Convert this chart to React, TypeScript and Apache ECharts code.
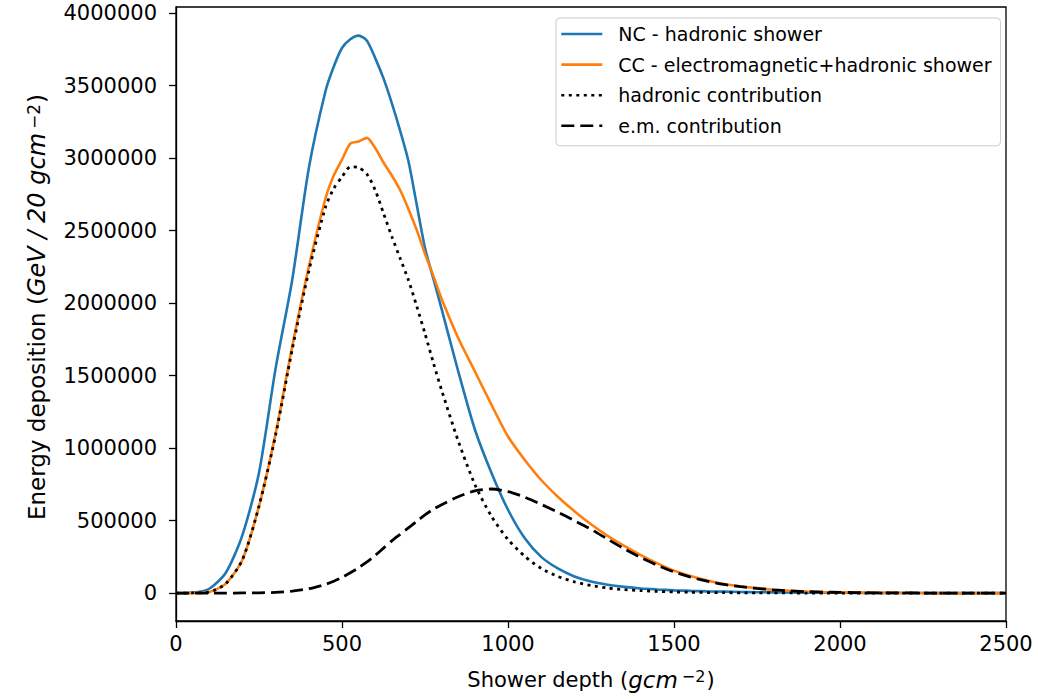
import React, { useEffect, useRef } from "react";
import * as echarts from "echarts";

const depth = [0, 50, 100, 150, 200, 250, 300, 350, 400, 450, 475, 500, 525, 550, 575, 600, 625, 650, 675, 700, 725, 750, 775, 800, 850, 900, 950, 1000, 1050, 1100, 1150, 1200, 1250, 1300, 1350, 1400, 1450, 1500, 1550, 1600, 1650, 1700, 1750, 1800, 1850, 1900, 1950, 2000, 2100, 2200, 2300, 2400, 2500];

const ncHadronic = [0, 3000, 30000, 140000, 400000, 830000, 1550000, 2160000, 2930000, 3460000, 3630000, 3760000, 3820000, 3845000, 3810000, 3690000, 3550000, 3380000, 3190000, 2980000, 2680000, 2380000, 2170000, 1960000, 1530000, 1130000, 830000, 575000, 380000, 250000, 170000, 115000, 80000, 58000, 43000, 32000, 25000, 19000, 15000, 12000, 10000, 8000, 6000, 5000, 4000, 3000, 2000, 2000, 1000, 1000, 0, 0, 0];

const ccEmHadronic = [0, 1000, 8000, 65000, 230000, 600000, 1100000, 1700000, 2250000, 2720000, 2880000, 2990000, 3100000, 3115000, 3140000, 3070000, 2970000, 2880000, 2780000, 2650000, 2505000, 2340000, 2190000, 2030000, 1760000, 1530000, 1300000, 1080000, 920000, 780000, 665000, 565000, 475000, 395000, 325000, 262000, 205000, 155000, 118000, 87000, 63000, 47000, 34000, 23000, 16000, 11000, 7000, 5000, 2000, 1000, 0, 0, 0];

const hadronicPart = [0, 1000, 7000, 65000, 230000, 600000, 1090000, 1680000, 2220000, 2660000, 2790000, 2870000, 2940000, 2935000, 2890000, 2780000, 2620000, 2460000, 2310000, 2160000, 1980000, 1790000, 1590000, 1400000, 1050000, 750000, 530000, 370000, 255000, 170000, 115000, 78000, 52000, 35000, 24000, 17000, 12000, 8000, 6000, 4000, 3000, 2000, 1500, 1000, 1000, 0, 0, 0, 0, 0, 0, 0, 0];

const emPart = [0, 0, 0, 0, 1000, 2000, 5000, 14000, 30000, 60000, 82000, 108000, 140000, 175000, 215000, 260000, 310000, 360000, 405000, 450000, 495000, 540000, 578000, 610000, 665000, 705000, 718000, 700000, 662000, 612000, 558000, 500000, 440000, 372000, 305000, 245000, 192000, 146000, 110000, 82000, 60000, 44000, 32000, 22000, 15000, 10000, 7000, 5000, 2000, 1000, 0, 0, 0];

const xTicks = [0, 500, 1000, 1500, 2000, 2500];
const yTicks = [0, 500000, 1000000, 1500000, 2000000, 2500000, 3000000, 3500000, 4000000];

const seriesNames = [
  "NC - hadronic shower",
  "CC - electromagnetic+hadronic shower",
  "hadronic contribution",
  "e.m. contribution",
];

const FONT = "DejaVu Sans";

function pairs(ys: number[]) {
  return depth.map((x, i) => [x, ys[i]]);
}

export default function App() {
  const ref = useRef<HTMLDivElement>(null);
  useEffect(() => {
    if (!ref.current) return;
    const chart = echarts.init(ref.current, null, { renderer: "svg" });
    const common = {
      type: "line",
      symbol: "none",
      smooth: 0.25,
    };
    chart.setOption({
      animation: false,
      backgroundColor: "#ffffff",
      grid: {
        left: 176,
        top: 7,
        right: 32,
        bottom: 78,
        show: true,
        borderColor: "#000",
        borderWidth: 1.3,
        backgroundColor: "transparent",
      },
      xAxis: {
        type: "value",
        min: 0,
        max: 2500,
        name: "Shower depth ({i|gcm}{sup|−2})",
        nameLocation: "middle",
        nameGap: 47,
        nameTextStyle: {
          fontFamily: FONT,
          fontSize: 21,
          color: "#000",
          rich: {
            i: { fontFamily: FONT, fontSize: 23, fontStyle: "italic", color: "#000" },
            sup: { fontFamily: FONT, fontSize: 16, color: "#000", verticalAlign: "top", padding: [0, 1, 0, 4] },
          },
        },
        axisLine: { show: true, onZero: false, lineStyle: { color: "#000", width: 1.3 } },
        axisTick: { show: true, length: 7, customValues: xTicks, lineStyle: { color: "#000", width: 1.3 } },
        axisLabel: { customValues: xTicks, margin: 12, fontFamily: FONT, fontSize: 21, color: "#000", formatter: (v: number) => String(v) },
        splitLine: { show: false },
      },
      yAxis: {
        type: "value",
        min: -192500,
        max: 4042500,
        name: "Energy deposition ({i|GeV / 20 gcm}{sup|−2})",
        nameLocation: "middle",
        nameGap: 127,
        nameRotate: 90,
        nameTextStyle: {
          fontFamily: FONT,
          fontSize: 23,
          color: "#000",
          padding: [0, 0, 0, 14],
          rich: {
            i: { fontFamily: FONT, fontSize: 24, fontStyle: "italic", color: "#000" },
            sup: { fontFamily: FONT, fontSize: 17, color: "#000", verticalAlign: "top", padding: [0, 1, 0, 4] },
          },
        },
        axisLine: { show: true, onZero: false, lineStyle: { color: "#000", width: 1.3 } },
        axisTick: { show: true, length: 7, customValues: yTicks, lineStyle: { color: "#000", width: 1.3 } },
        axisLabel: { customValues: yTicks, margin: 19, fontFamily: FONT, fontSize: 21, color: "#000", formatter: (v: number) => String(v) },
        splitLine: { show: false },
      },
      legend: {
        orient: "vertical",
        left: 556,
        top: 18,
        data: seriesNames,
        backgroundColor: "rgba(255,255,255,0.8)",
        borderColor: "#cccccc",
        borderWidth: 1,
        borderRadius: 4,
        padding: [5, 9, 9, 4],
        itemWidth: 41,
        itemHeight: 22,
        itemGap: 8.6,
        itemStyle: { opacity: 0 },
        lineStyle: { width: 2.6 },
        textStyle: { fontFamily: FONT, fontSize: 19, lineHeight: 22, color: "#000", padding: [0, 0, 0, 11] },
      },
      series: [
        { ...common, name: seriesNames[0], data: pairs(ncHadronic), lineStyle: { color: "#1f77b4", width: 2.6 }, itemStyle: { color: "#1f77b4" } },
        { ...common, name: seriesNames[1], data: pairs(ccEmHadronic), lineStyle: { color: "#ff7f0e", width: 2.6 }, itemStyle: { color: "#ff7f0e" } },
        { ...common, name: seriesNames[2], data: pairs(hadronicPart), lineStyle: { color: "#000", width: 2.8, type: [3, 4.5] }, itemStyle: { color: "#000" } },
        { ...common, name: seriesNames[3], data: pairs(emPart), lineStyle: { color: "#000", width: 2.8, type: [13, 6] }, itemStyle: { color: "#000" } },
      ],
    });
    return () => chart.dispose();
  }, []);
  return <div ref={ref} style={{ width: 1038, height: 699, position: "absolute", left: 0, top: 0 }} />;
}
